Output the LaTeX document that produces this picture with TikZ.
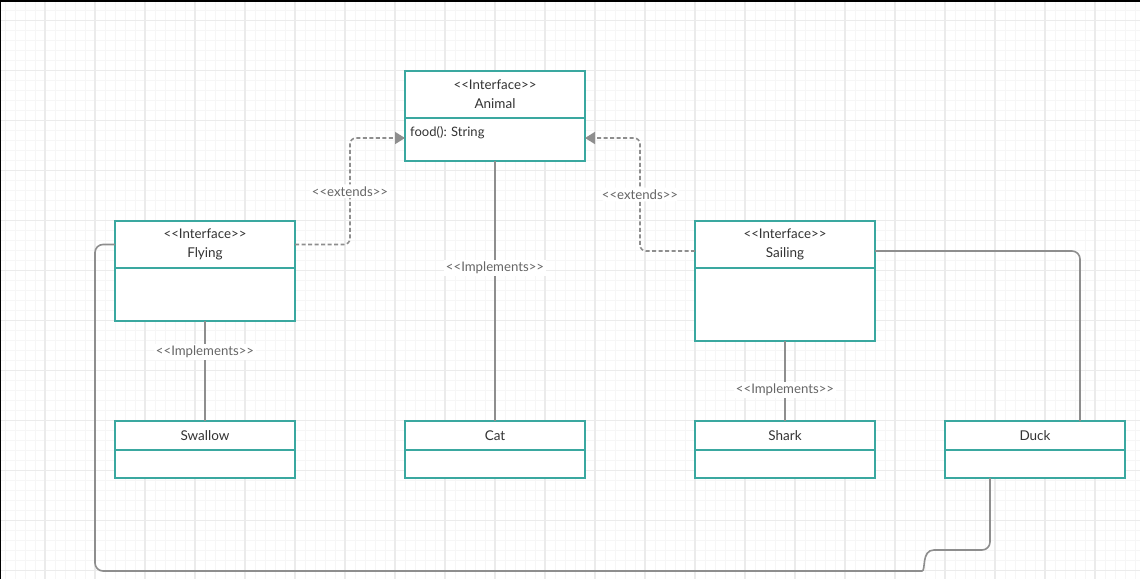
\documentclass[tikz,border=0pt]{standalone}
\usepackage{fontspec}
\newfontfamily\umlfont{Lato}
\usetikzlibrary{positioning,arrows.meta}

\definecolor{umlteal}{HTML}{3AA8A0}
\definecolor{wiregray}{HTML}{8E8E8E}
\definecolor{labelgray}{HTML}{666666}
\definecolor{textdark}{HTML}{333333}
\definecolor{gridminor}{HTML}{F6F6F6}
\definecolor{gridmajor}{HTML}{EBEBEB}

\tikzset{
  classhead/.style={draw=umlteal, line width=2pt, fill=white, minimum width=180pt, inner sep=0pt,
                    outer sep=0pt, align=center, text=textdark, font=\umlfont\fontsize{13.5}{19}\selectfont},
  classbody/.style={draw=umlteal, line width=2pt, fill=white, minimum width=180pt, inner sep=0pt,
                    outer sep=0pt},
  conn/.style={draw=wiregray, line width=1.6pt},
  extendsline/.style={conn, dash pattern=on 4pt off 2.5pt, rounded corners=6pt,
                      -{Triangle[length=10pt,width=12pt,fill=wiregray]}},
  stereo/.style={fill=white, text=labelgray, inner sep=2pt, font=\umlfont\fontsize{13.2}{15}\selectfont},
}
\newcommand{\stereotype}{{\fontsize{13.3}{19}\selectfont<<Interface>>}}

\begin{document}
\begin{tikzpicture}[x=1pt, y=-1pt]
  % canvas and grid
  \useasboundingbox (0,0) rectangle (1140,579);
  \fill[white] (0,0) rectangle (1140,579);
  \foreach \x in {5,15,...,1135} \draw[gridminor, line width=1pt] (\x,0) -- (\x,579);
  \foreach \y in {0.5,10.5,...,579} \draw[gridminor, line width=1pt] (0,\y) -- (1140,\y);
  \foreach \x in {45,95,...,1135} \draw[gridmajor, line width=1.2pt] (\x,0) -- (\x,579);
  \foreach \y in {20.5,70.5,...,579} \draw[gridmajor, line width=1.2pt] (0,\y) -- (1140,\y);
  \fill[black] (0,0) rectangle (1140,2);
  \fill[black] (0,0) rectangle (1,579);

  % interfaces
  \node[classhead, minimum height=47pt] (animal-h) at (495,94.5) {\stereotype\\Animal};
  \node[classbody, minimum height=43pt, below=0pt of animal-h] (animal-b) {};
  \node[anchor=west, inner sep=0pt, text=textdark, font=\umlfont\fontsize{13}{15}\selectfont]
       (animal-op) at ([xshift=5pt,yshift=-15pt]animal-b.north west) {food(): String};

  \node[classhead, minimum height=47pt] (flying-h) at (205,244.5) {\stereotype\\Flying};
  \node[classbody, minimum height=53pt, below=0pt of flying-h] (flying-b) {};

  \node[classhead, minimum height=47pt] (sailing-h) at (785,244.5) {\stereotype\\Sailing};
  \node[classbody, minimum height=73pt, below=0pt of sailing-h] (sailing-b) {};

  % classes
  \node[classhead, minimum height=29pt] (swallow-h) at (205,435.5) {Swallow};
  \node[classbody, minimum height=28pt, below=0pt of swallow-h] (swallow-b) {};

  \node[classhead, minimum height=29pt] (cat-h) at (495,435.5) {Cat};
  \node[classbody, minimum height=28pt, below=0pt of cat-h] (cat-b) {};

  \node[classhead, minimum height=29pt] (shark-h) at (785,435.5) {Shark};
  \node[classbody, minimum height=28pt, below=0pt of shark-h] (shark-b) {};

  \node[classhead, minimum height=29pt] (duck-h) at (1035,435.5) {Duck};
  \node[classbody, minimum height=28pt, below=0pt of duck-h] (duck-b) {};

  % relations
  \draw[extendsline] (flying-h.east) -- ++(55,0)
       |- node[stereo, pos=0.25] {<<extends>>} ([yshift=1.5pt]animal-b.west);
  \draw[extendsline] ([yshift=-6.5pt]sailing-h.west) -- ++(-55,0)
       |- node[stereo, pos=0.25] {<<extends>>} ([yshift=1.5pt]animal-b.east);

  \draw[conn] (animal-b.south) -- node[stereo, pos=0.41] {<<Implements>>} (cat-h.north);
  \draw[conn] (flying-b.south) -- node[stereo, pos=0.31] {<<Implements>>} (swallow-h.north);
  \draw[conn] (sailing-b.south) -- node[stereo, pos=0.61] {<<Implements>>} (shark-h.north);

  \draw[conn, rounded corners=8pt] ([yshift=-6.5pt]sailing-h.east) -| ([xshift=45pt]duck-h.north);
  \draw[conn, rounded corners=8pt] (flying-h.west) -- ++(-20,0) |- (914,571)
       [sharp corners] .. controls (926,571) and (921,550) .. (934,550)
       [rounded corners=8pt] -| ([xshift=-45pt]duck-b.south);
\end{tikzpicture}
\end{document}
